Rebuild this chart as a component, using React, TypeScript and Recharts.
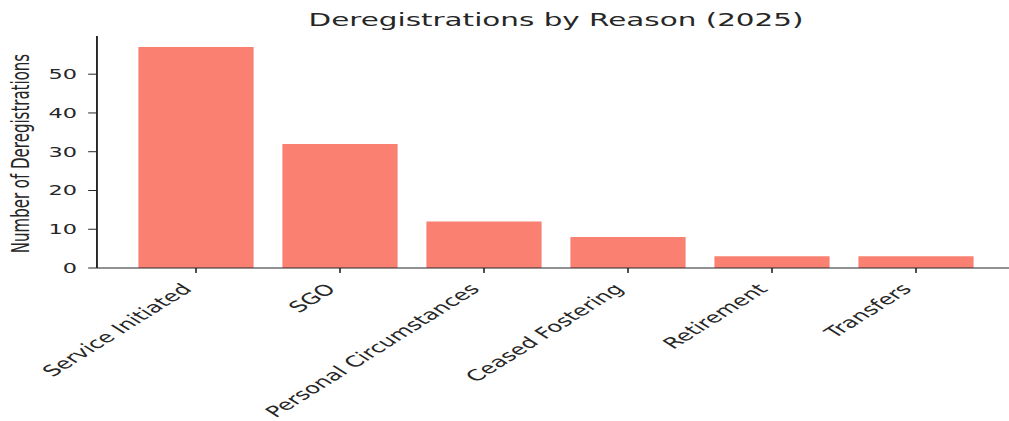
import React from 'react';
import { BarChart, Bar, XAxis, YAxis } from 'recharts';

const reasons = ['Service Initiated', 'SGO', 'Personal Circumstances', 'Ceased Fostering', 'Retirement', 'Transfers'];
const counts = [57, 32, 12, 8, 3, 3];
const yTicks = [0, 10, 20, 30, 40, 50];

const data = reasons.map((reason, i) => ({ reason, count: counts[i] }));

// the reference looks stretched sideways, so draw narrow and scale x
const S = 1.6;
const W = 644;
const H = 421;
const ink = '#262626';
const font = 'DejaVu Sans, sans-serif';

const XTick = (props: any) => {
  const { x, y, payload } = props;
  return (
    <text
      x={0}
      y={0}
      transform={`translate(${x - 2}, ${y + 15}) rotate(-45)`}
      textAnchor="end"
      fontSize={15.2}
      fontFamily={font}
      fill={ink}
    >
      {payload.value}
    </text>
  );
};

const App = () => {
  return (
    <div style={{ position: 'fixed', left: 0, top: 0, width: 1009, height: H, overflow: 'hidden', background: '#fff' }}>
      <div style={{ width: W, height: H, transform: `scaleX(${S})`, transformOrigin: '0 0' }}>
        <BarChart width={W} height={H} data={data} margin={{ top: 36, right: 9.6, left: 0, bottom: 0 }} barCategoryGap="10%">
          <text x={(60.6 + 634.4) / 2} y={26} textAnchor="middle" fontSize={18.4} fontFamily={font} fill={ink}>
            Deregistrations by Reason (2025)
          </text>
          <text
            x={0}
            y={0}
            transform={`translate(18.3, 153.5) rotate(-90)`}
            textAnchor="middle"
            fontSize={15}
            fontFamily={font}
            fill={ink}
          >
            Number of Deregistrations
          </text>
          <XAxis
            dataKey="reason"
            xAxisId="bottom"
            height={153}
            padding={{ left: 16.9, right: 16.9 }}
            tick={<XTick />}
            tickSize={5}
            interval={0}
            stroke={ink}
            tickLine={{ stroke: ink }}
            axisLine={{ stroke: ink, strokeWidth: 1.2 }}
          />
          <XAxis dataKey="reason" xAxisId="top" orientation="top" height={0} tick={false} tickLine={false} axisLine={{ stroke: ink, strokeWidth: 1.2 }} />
          <YAxis
            yAxisId="left"
            width={60.6}
            domain={[0, 59.85]}
            ticks={yTicks}
            tickSize={5.5}
            tickMargin={7}
            tick={{ fontSize: 14, fontFamily: font, fill: ink }}
            stroke={ink}
            axisLine={{ stroke: ink, strokeWidth: 1.2 }}
            allowDataOverflow
          />
          <YAxis yAxisId="right" orientation="right" width={0} domain={[0, 59.85]} tick={false} tickLine={false} axisLine={{ stroke: ink, strokeWidth: 1.2 }} />
          <Bar dataKey="count" xAxisId="bottom" yAxisId="left" fill="#FA8072" isAnimationActive={false} />
        </BarChart>
      </div>
    </div>
  );
};

export default App;
